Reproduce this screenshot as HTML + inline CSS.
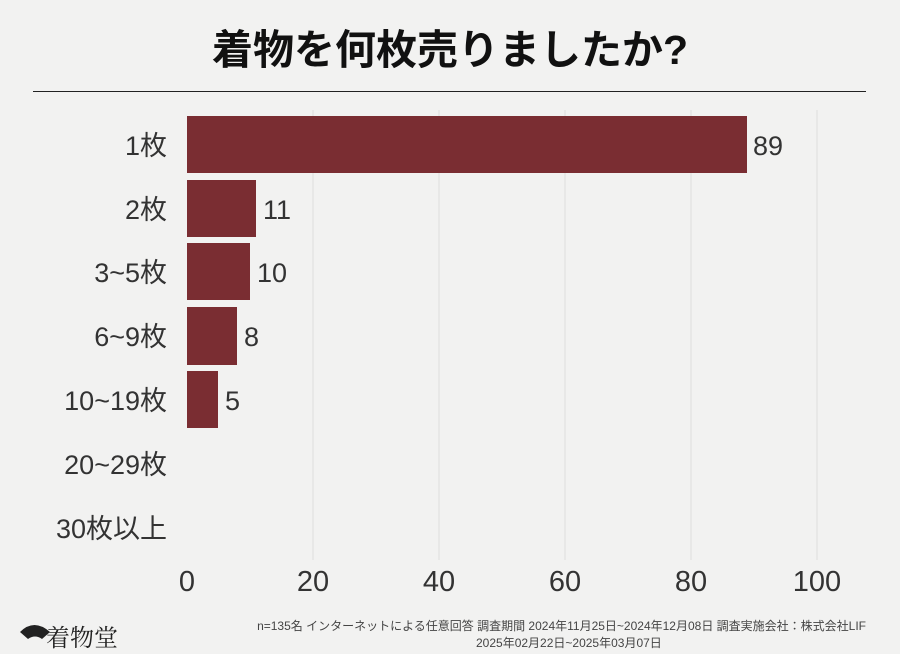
<!DOCTYPE html>
<html><head><meta charset="utf-8"><style>
body{margin:0;width:900px;height:654px;background:#f2f2f1;overflow:hidden;position:relative;font-family:"Liberation Sans","Noto Sans CJK JP",sans-serif;color:#333}
.t{position:absolute;white-space:nowrap}
</style></head><body>
<div class="t" style="left:0;width:900px;top:22px;text-align:center;font-size:41px;font-weight:bold;color:#111;line-height:56px">着物を何枚売りましたか?</div>
<div style="position:absolute;left:33px;top:91px;width:833px;height:1px;background:#222"></div>
<svg width="900" height="654" style="position:absolute;left:0;top:0">
<g stroke="#ddd" stroke-width="1">
<line x1="313" y1="110" x2="313" y2="560"/><line x1="439" y1="110" x2="439" y2="560"/><line x1="565" y1="110" x2="565" y2="560"/><line x1="691" y1="110" x2="691" y2="560"/><line x1="817" y1="110" x2="817" y2="560"/>
</g>
<g fill="#7a2d32">
<rect x="187" y="116" width="560" height="57"/>
<rect x="187" y="180" width="69" height="57"/>
<rect x="187" y="243" width="63" height="57"/>
<rect x="187" y="307" width="50" height="58"/>
<rect x="187" y="371" width="31" height="57"/>
</g>
<g font-size="27" fill="#333" font-family="Liberation Sans, Noto Sans CJK JP, sans-serif">
<text x="753" y="155">89</text><text x="263" y="219">11</text><text x="257" y="282">10</text><text x="244" y="346">8</text><text x="225" y="410">5</text>
<g text-anchor="end">
<text x="167" y="155">1枚</text><text x="167" y="219">2枚</text><text x="167" y="282">3~5枚</text><text x="167" y="346">6~9枚</text><text x="167" y="410">10~19枚</text><text x="167" y="474">20~29枚</text><text x="167" y="538">30枚以上</text>
</g>
<g text-anchor="middle" font-size="29">
<text x="187" y="591">0</text><text x="313" y="591">20</text><text x="439" y="591">40</text><text x="565" y="591">60</text><text x="691" y="591">80</text><text x="817" y="591">100</text>
</g>
</g>
<path d="M20 632 q14 -14 30 0 l-8 7 q-7 -5 -14 0z" fill="#222"/>
<circle cx="40" cy="632" r="3" fill="#222"/>
</svg>
<div class="t" style="left:46px;top:618px;font-size:24px;font-family:'Noto Serif CJK SC',serif;color:#222">着物堂</div>
<div class="t" style="left:96px;width:770px;top:617px;text-align:right;font-size:12px;color:#444">n=135名 インターネットによる任意回答 調査期間 2024年11月25日~2024年12月08日 調査実施会社：株式会社LIF</div>
<div class="t" style="left:96px;width:770px;top:634px;font-size:12px;color:#444"><span style="position:absolute;left:380px">2025年02月22日~2025年03月07日</span></div>
</body></html>
